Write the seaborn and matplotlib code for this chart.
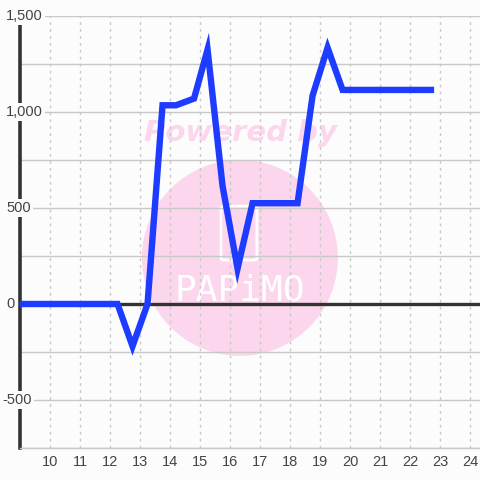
import matplotlib
matplotlib.use("Agg")
import matplotlib.pyplot as plt
import seaborn as sns
import pandas as pd
from matplotlib.patches import Ellipse, FancyBboxPatch

# data (hour of day vs value)
hours = [9.0, 12.25, 12.75, 13.25, 13.75, 14.2, 14.8, 15.25, 15.75, 16.25,
         16.75, 18.25, 18.75, 19.25, 19.75, 22.8]
values = [0, 0, -220, 0, 1035, 1035, 1070, 1325, 615, 185,
          525, 525, 1085, 1335, 1115, 1115]
x_ticks = list(range(10, 25))
y_labels = [-500, 0, 500, 1000, 1500]

df = pd.DataFrame({"hour": hours, "value": values})

bg = "#fbfcfb"
sns.set_style("white")
plt.rcParams["font.family"] = ["Liberation Sans", "DejaVu Sans"]

fig = plt.figure(figsize=(4.8, 4.8), dpi=100, facecolor=bg)
ax = fig.add_axes([20 / 480, 32 / 480, 460 / 480, 432 / 480], facecolor=bg)

# watermark behind the grid
ax.add_patch(Ellipse((0.478, 0.44), 196 / 460, 196 / 432, transform=ax.transAxes,
                     facecolor="#fbd6ec", edgecolor="none", zorder=0.1))
ax.add_patch(FancyBboxPatch((0.442, 0.44), 0.068, 0.115, transform=ax.transAxes,
                            boxstyle="round,pad=0.005", facecolor="none",
                            edgecolor="white", linewidth=2, zorder=0.2))
ax.text(0.478, 0.365, "PAPiMO", transform=ax.transAxes, ha="center", va="center",
        color="white", fontsize=26, family="DejaVu Sans Mono", zorder=0.2)
ax.text(0.48, 0.73, "Powered by", transform=ax.transAxes, ha="center", va="center",
        color="#fbd6ec", fontsize=21, fontweight="bold", fontstyle="italic",
        family="DejaVu Sans", zorder=0.2)

sns.lineplot(data=df, x="hour", y="value", ax=ax, color="#1e3cff", linewidth=4.6,
             solid_joinstyle="miter", solid_capstyle="butt", zorder=4)

ax.set_xlim(9, 24.33)
ax.set_ylim(-750, 1500)
ax.set_xticks(x_ticks)
ax.set_yticks(range(-750, 1501, 250))
ax.set_yticklabels([])
ax.set_xlabel("")
ax.set_ylabel("")
ax.tick_params(axis="both", length=0)
ax.tick_params(axis="x", pad=5, labelsize=10.5, labelcolor="#444444")

ax.set_axisbelow(True)
ax.grid(axis="y", color="#c8c8c8", linewidth=1, linestyle="-")
ax.grid(axis="x", color="#c8c8c8", linewidth=1, linestyle=(0, (2, 3)))

ax.axhline(0, color="#333333", linewidth=2.4, zorder=3)
for s in ["top", "right"]:
    ax.spines[s].set_visible(False)
ax.spines["bottom"].set_color("#c8c8c8")
ax.spines["bottom"].set_linewidth(1)
ax.spines["left"].set_color("#333333")
ax.spines["left"].set_linewidth(2.6)

trans = ax.get_yaxis_transform()
for v in y_labels:
    px = 2 if v < 0 else 6
    ax.text((px - 20) / 460, v, f"{v:,}", transform=trans, ha="left", va="center",
            fontsize=10.5, color="#444444", clip_on=False, zorder=5,
            bbox=dict(boxstyle="square,pad=0.15", facecolor=bg, edgecolor="none"))

fig.savefig("out.png", dpi=100, facecolor=bg)
